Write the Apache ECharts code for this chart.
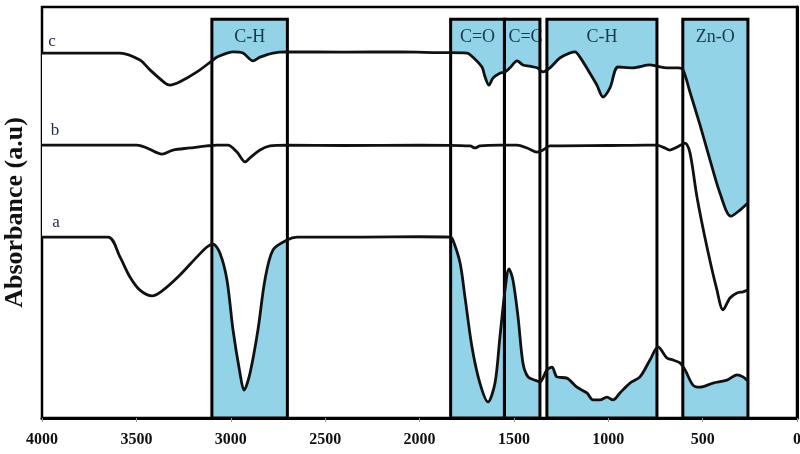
<!DOCTYPE html>
<html>
<head>
<meta charset="utf-8">
<script src="https://cdn.jsdelivr.net/npm/echarts@6/dist/echarts.min.js"></script>
<style>
  html, body { margin: 0; padding: 0; background: #ffffff; }
  #chart { width: 800px; height: 454px; }
</style>
</head>
<body>
<div id="chart"></div>
<script>
// FTIR spectra: wavenumber (cm-1) and absorbance (arbitrary units, offset per sample)
const cWave = [4000, 3587, 3481, 3428, 3348, 3322, 3269, 3179, 3094, 3073, 2988, 2935, 2882, 2845, 2776, 2702, 2400, 2100, 1900, 1748, 1717, 1669, 1653, 1632, 1611, 1574, 1547, 1521, 1483, 1452, 1415, 1377, 1346, 1309, 1256, 1203, 1176, 1150, 1097, 1060, 1028, 991, 948, 869, 779, 742, 689, 630, 604, 567, 514, 461, 408, 350, 302, 260];
const cAbs = [88.8, 88.8, 87.1, 84.7, 81.5, 81.0, 81.8, 84.2, 87.1, 87.8, 89.1, 88.8, 86.9, 87.8, 88.8, 89.1, 89.0, 89.1, 88.9, 88.8, 87.8, 85.4, 83.0, 81.0, 82.7, 83.9, 84.2, 85.2, 86.9, 85.9, 85.6, 85.2, 84.2, 85.2, 87.6, 88.8, 89.1, 87.8, 83.9, 81.0, 78.1, 80.3, 85.4, 85.2, 85.9, 85.6, 85.2, 85.2, 84.7, 79.3, 71.3, 62.8, 54.7, 49.1, 50.6, 52.3];

const bWave = [4000, 3497, 3444, 3364, 3306, 3216, 3126, 3073, 3015, 2967, 2924, 2898, 2845, 2792, 2702, 2400, 2000, 1732, 1706, 1680, 1574, 1483, 1430, 1377, 1346, 1309, 1000, 800, 742, 710, 673, 636, 593, 567, 530, 477, 424, 392, 355, 318, 286, 260];
const bAbs = [66.4, 66.4, 65.7, 64.2, 65.2, 65.7, 66.2, 66.4, 66.4, 64.7, 62.3, 63.3, 65.2, 66.2, 66.4, 66.3, 66.4, 66.2, 65.7, 66.2, 66.4, 66.4, 65.7, 64.7, 65.2, 66.2, 66.3, 66.4, 66.4, 65.9, 65.2, 65.9, 66.9, 64.5, 53.8, 41.6, 31.1, 26.3, 29.2, 30.4, 30.7, 31.1];

const aWave = [4000, 3650, 3587, 3534, 3481, 3417, 3359, 3269, 3179, 3126, 3094, 3057, 3020, 2988, 2951, 2930, 2898, 2856, 2819, 2776, 2702, 2649, 2300, 2000, 1838, 1823, 1785, 1759, 1722, 1680, 1637, 1600, 1574, 1547, 1526, 1505, 1478, 1452, 1425, 1388, 1362, 1325, 1298, 1272, 1219, 1166, 1113, 1081, 1044, 1007, 975, 938, 885, 832, 779, 736, 689, 657, 620, 593, 551, 514, 445, 371, 318, 286, 260];
const aAbs = [44.0, 44.0, 39.2, 34.3, 31.1, 29.7, 31.1, 34.8, 39.2, 41.6, 42.3, 40.1, 33.6, 21.4, 10.9, 6.8, 10.9, 21.4, 33.6, 40.9, 43.3, 44.0, 44.0, 44.1, 44.0, 43.3, 37.7, 29.4, 17.3, 8.5, 3.9, 8.5, 19.7, 31.1, 36.3, 33.6, 24.6, 13.4, 10.0, 9.2, 8.8, 11.7, 12.4, 10.0, 9.7, 7.5, 6.1, 4.4, 4.4, 5.1, 4.4, 6.1, 8.5, 10.0, 14.1, 17.3, 14.6, 14.1, 13.4, 11.7, 8.0, 7.5, 8.5, 9.2, 10.5, 10.0, 9.0];

// Assigned absorption bands (wavenumber ranges)
const bandStart = [3100, 1835, 1550, 1325, 605];
const bandEnd = [2700, 1550, 1362, 742, 260];
const bandNames = ['C-H', 'C=O', 'C=C', 'C-H', 'Zn-O'];
const bandTop = 97;

const sampleNames = ['a', 'b', 'c'];

const SERIF = '"Liberation Serif", "Times New Roman", serif';
const BLUE = '#93d3e8';
const INK = '#111111';

const zip = (xs, ys) => xs.map((x, i) => [x, ys[i]]);
const bandData = bandStart.map((s, i) => [s, bandEnd[i], i]);

function bandRect(api) {
  const p1 = api.coord([api.value(0), bandTop]);
  const p2 = api.coord([api.value(1), 0]);
  return {
    x: Math.min(p1[0], p2[0]),
    y: p1[1],
    width: Math.abs(p2[0] - p1[0]),
    height: p2[1] - p1[1]
  };
}

function curveSeries(name, wave, abs, dx, dy) {
  return {
    name: name,
    type: 'line',
    data: zip(wave, abs),
    showSymbol: false,
    smooth: 0.3,
    z: 4,
    lineStyle: { color: INK, width: 2.8 },
    markPoint: {
      symbol: 'circle',
      symbolSize: 1,
      itemStyle: { color: 'transparent' },
      label: {
        show: true,
        position: 'inside',
        formatter: name,
        offset: [dx, dy],
        fontFamily: SERIF,
        fontSize: 17,
        color: '#1f2a44'
      },
      data: [{ coord: [wave[0], abs[0]] }]
    }
  };
}

const chart = echarts.init(document.getElementById('chart'), null, { renderer: 'canvas' });

chart.setOption({
  animation: false,
  backgroundColor: '#ffffff',
  grid: {
    left: 42, right: 3, top: 7, bottom: 36,
    outerBoundsMode: 'none',
    containLabel: false,
    show: true,
    borderColor: '#000000',
    borderWidth: 2.5,
    backgroundColor: 'transparent'
  },
  xAxis: {
    type: 'value',
    inverse: true,
    min: 0,
    max: 4000,
    interval: 500,
    z: 10,
    axisLine: { show: true, lineStyle: { color: '#000000', width: 3 } },
    axisTick: { show: true, length: 4, lineStyle: { color: '#9a9a9a', width: 1 } },
    axisLabel: {
      fontFamily: SERIF, fontWeight: 'bold', fontSize: 16, color: INK, margin: 14,
      formatter: v => String(v)
    },
    splitLine: { show: false }
  },
  yAxis: {
    type: 'value',
    min: 0,
    max: 100,
    z: 10,
    name: 'Absorbance (a.u)',
    nameLocation: 'middle',
    nameGap: 14,
    nameTextStyle: { fontFamily: SERIF, fontWeight: 'bold', fontSize: 26, color: INK },
    axisLine: { show: true, lineStyle: { color: '#000000', width: 3 } },
    axisTick: { show: false },
    axisLabel: { show: false },
    splitLine: { show: false }
  },
  series: [
    {
      // band fills
      type: 'custom',
      z: 1,
      silent: true,
      data: bandData,
      encode: { x: [0, 1], y: 2 },
      renderItem: function (params, api) {
        return { type: 'rect', shape: bandRect(api), style: { fill: BLUE } };
      }
    },
    {
      // clear the region between the top and bottom spectra
      type: 'custom',
      z: 2,
      silent: true,
      data: [[cWave[0], cAbs[0]]],
      renderItem: function (params, api) {
        const top = zip(cWave, cAbs).map(p => api.coord(p));
        const bottom = zip(aWave, aAbs).reverse().map(p => api.coord(p));
        return { type: 'polygon', shape: { points: top.concat(bottom) }, style: { fill: '#ffffff' } };
      }
    },
    {
      // band outlines and assignments; narrow bands get a left-aligned label
      type: 'custom',
      z: 3,
      silent: true,
      data: bandData,
      encode: { x: [0, 1], y: 2 },
      renderItem: function (params, api) {
        const r = bandRect(api);
        const idx = api.value(2);
        const narrow = r.width < 45;
        return {
          type: 'group',
          children: [
            {
              type: 'text',
              x: narrow ? r.x + 4 : r.x + r.width / 2,
              y: r.y + 18,
              style: {
                text: bandNames[idx],
                font: '18px ' + SERIF,
                fill: '#17394a',
                align: narrow ? 'left' : 'center',
                verticalAlign: 'middle'
              }
            },
            { type: 'rect', shape: r, style: { fill: 'none', stroke: '#000000', lineWidth: 3 } }
          ]
        };
      }
    },
    curveSeries(sampleNames[2], cWave, cAbs, 10, -12),
    curveSeries(sampleNames[1], bWave, bAbs, 13, -15),
    curveSeries(sampleNames[0], aWave, aAbs, 14, -15)
  ]
});
</script>
</body>
</html>
